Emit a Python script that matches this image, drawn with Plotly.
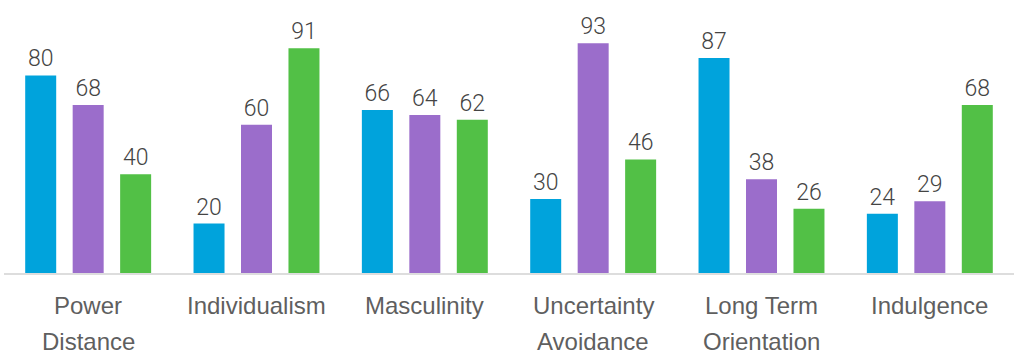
import plotly.graph_objects as go

categories = ["Power Distance", "Individualism", "Masculinity",
              "Uncertainty Avoidance", "Long Term Orientation", "Indulgence"]
label_line1 = ["Power", "Individualism", "Masculinity", "Uncertainty", "Long Term", "Indulgence"]
label_line2 = ["Distance", "", "", "Avoidance", "Orientation", ""]
series_a = [80, 20, 66, 30, 87, 24]
series_b = [68, 60, 64, 93, 38, 29]
series_c = [40, 91, 62, 46, 26, 68]
colors = ["#00A3DC", "#9B6DCB", "#52C046"]

fig = go.Figure()
for name, vals, col in zip(["A", "B", "C"], [series_a, series_b, series_c], colors):
    fig.add_trace(go.Bar(
        x=categories, y=vals, name=name, marker=dict(color=col, line=dict(width=0)),
        text=[str(v) for v in vals], textposition="outside", cliponaxis=False,
        textfont=dict(family="Roboto", size=23, color="#444444", weight=300),
    ))

for cat, l1, l2 in zip(categories, label_line1, label_line2):
    fig.add_annotation(x=cat, xref="x", y=0, yref="paper", yanchor="middle",
                       yshift=-32, text=l1, showarrow=False,
                       font=dict(family="Liberation Sans", size=24, color="#5f5f5f"))
    if l2:
        fig.add_annotation(x=cat, xref="x", y=0, yref="paper", yanchor="middle",
                           yshift=-68, text=l2, showarrow=False,
                           font=dict(family="Liberation Sans", size=24, color="#5f5f5f"))

fig.update_layout(
    width=1024, height=364,
    margin=dict(l=4, r=10, t=26, b=91),
    plot_bgcolor="white", paper_bgcolor="white",
    barmode="group", bargap=0.154, bargroupgap=0.347,
    showlegend=False,
    xaxis=dict(showticklabels=False, showline=True, linecolor="#dddddd", linewidth=2,
               showgrid=False, ticks=""),
    yaxis=dict(range=[0, 100], visible=False, showgrid=False),
)

fig.write_html("out.html", config={"displayModeBar": False},
               post_script="document.body.style.margin='0';document.body.style.padding='0';")
